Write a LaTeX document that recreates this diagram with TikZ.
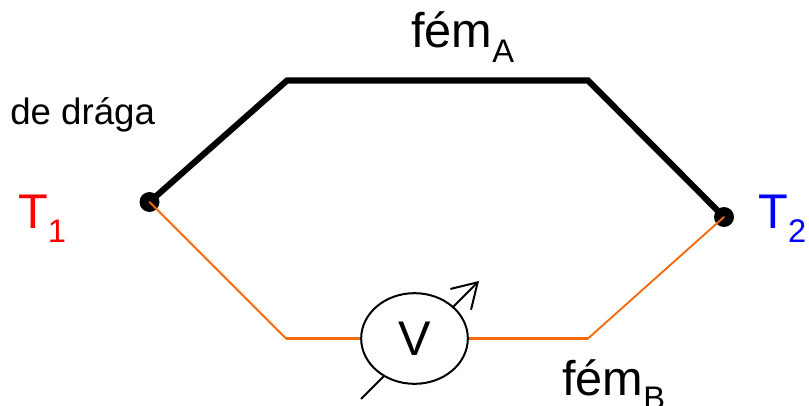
\documentclass[tikz,border=0pt]{standalone}
\usepackage{fontspec}
\setmainfont{Liberation Sans}
\usetikzlibrary{arrows.meta,shapes.geometric}
\definecolor{wirecol}{RGB}{242,106,10}
\newcommand{\bigtxt}{\fontsize{36.5pt}{39pt}\selectfont}
\newcommand{\subtxt}[1]{\raisebox{-11pt}{\fontsize{24.5pt}{27pt}\selectfont #1}}
\tikzset{
 px/.style={x=0.75pt,y=-0.75pt},
 junction/.style={circle,fill=black,inner sep=0pt,minimum size=15pt},
 lab/.style={inner sep=0pt,anchor=base west,font=\bigtxt},
 smalllab/.style={inner sep=0pt,anchor=base west,font=\fontsize{27.5pt}{30pt}\selectfont},
 heavywire/.style={line width=4.6pt,black,line join=miter},
 finewire/.style={line width=1.4pt,draw=wirecol,line cap=round},
 finewireflat/.style={line width=2pt,draw=wirecol},
 meter/.style={draw,fill=white,ellipse,line width=1.5pt,inner sep=0pt,minimum width=80pt,minimum height=68pt,font=\bigtxt},
 needle/.style={line width=1.5pt,-{Straight Barb[length=18pt,width=22pt,line width=1.5pt]}},
}
\begin{document}
\begin{tikzpicture}[px]
\useasboundingbox (0,0) rectangle (809,406);
\node[junction] (j1) at (149.5,202) {};
\node[junction] (j2) at (724,217) {};
\coordinate (a1) at (287,80.5);
\coordinate (a2) at (588,80.5);
\coordinate (b1) at (286,338.5);
\coordinate (b2) at (588,338.5);
\coordinate (n1) at (361,399);
\coordinate (n2) at (479,281);
\draw[heavywire] (j1.center) -- (a1) -- (a2) -- (j2.center);
\draw[needle] (n1) -- (n2);
\node[meter] (v) at (414.5,338.5) {V};
\draw[finewire] (j1.center) -- (b1);
\draw[finewireflat] (b1) -- (v.west);
\draw[finewireflat] (v.east) -- (b2);
\draw[finewire] (b2) -- (j2.center);
\node[lab] (fa) at (411,48) {fém\subtxt{A}};
\node[lab] (fb) at (562,395) {fém\subtxt{B}};
\node[smalllab] (dd) at (10,125) {de drága};
\node[lab,text=red] (t1) at (18,228) {T\subtxt{1}};
\node[lab,text=blue] (t2) at (758,228) {T\subtxt{2}};
\end{tikzpicture}
\end{document}
